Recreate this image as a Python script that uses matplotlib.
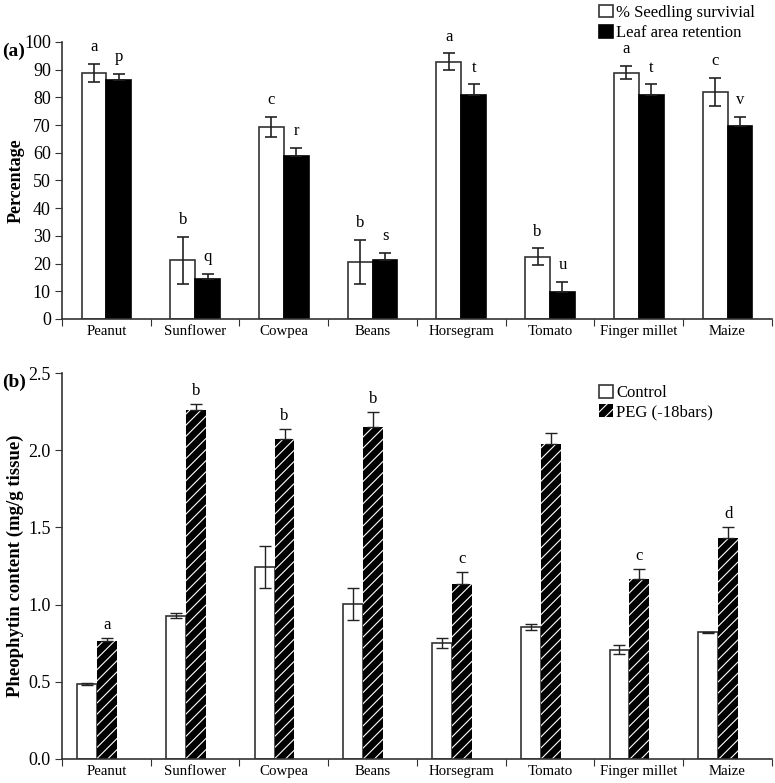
import matplotlib.pyplot as plt
import numpy as np

plt.rcParams['font.family'] = ['Liberation Serif', 'DejaVu Serif']
plt.rcParams['hatch.linewidth'] = 0.8

crops = ["Peanut", "Sunflower", "Cowpea", "Beans", "Horsegram", "Tomato", "Finger millet", "Maize"]

# panel (a)
survival = [88.9, 21.2, 69.4, 20.7, 92.9, 22.5, 88.9, 82.0]
survival_err = [3.3, 8.5, 3.6, 7.9, 3.0, 3.0, 2.4, 5.1]
leaf = [86.3, 14.3, 59.0, 21.2, 80.9, 9.9, 80.9, 69.7]
leaf_err = [2.2, 2.0, 2.9, 2.8, 3.8, 3.6, 3.8, 3.3]
survival_letters = ["a", "b", "c", "b", "a", "b", "a", "c"]
leaf_letters = ["p", "q", "r", "s", "t", "u", "t", "v"]

# panel (b)
control = [0.486, 0.928, 1.243, 1.004, 0.751, 0.855, 0.708, 0.820]
control_err = [0.005, 0.015, 0.135, 0.105, 0.03, 0.02, 0.03, 0.005]
peg = [0.762, 2.258, 2.072, 2.150, 1.133, 2.042, 1.168, 1.431]
peg_err = [0.02, 0.04, 0.065, 0.097, 0.08, 0.067, 0.06, 0.074]
peg_letters = ["a", "b", "b", "b", "c", "", "c", "d"]

x = np.arange(len(crops))
edge = '#333333'

fig = plt.figure(figsize=(7.75, 7.83), dpi=100)
ax1 = fig.add_axes([0.08, 0.5926, 0.916, 0.3538])
ax2 = fig.add_axes([0.08, 0.0307, 0.916, 0.4929])

def style(ax):
    for s in ['top', 'right']:
        ax.spines[s].set_visible(False)
    for s in ['left', 'bottom']:
        ax.spines[s].set_color(edge)
        ax.spines[s].set_linewidth(1.2)
    ax.set_xlim(-0.5, len(crops) - 0.5)
    ax.set_xticks(np.arange(len(crops) + 1) - 0.5)
    ax.set_xticklabels([])
    ax.set_xticks(x, minor=True)
    ax.set_xticklabels(crops, minor=True, fontsize=10.7)
    ax.tick_params(axis='x', which='minor', length=0, pad=4)
    ax.tick_params(axis='x', which='major', length=5, color=edge, direction='out')
    ax.tick_params(axis='y', length=5, color=edge, labelsize=13, direction='out', pad=3)
    ax.yaxis.set_label_coords(-0.053, 0.5)

# ---- (a)
w = 0.28
ax1.bar(x - w / 2, survival, w, yerr=survival_err, color='white', edgecolor=edge,
        linewidth=1.2, capsize=4, error_kw=dict(elinewidth=1.2, capthick=1.2, ecolor='#222'),
        label='% Seedling survivial')
ax1.bar(x + w / 2, leaf, w, yerr=[np.zeros(8), leaf_err], color='black', edgecolor='black',
        linewidth=1.2, capsize=4, error_kw=dict(elinewidth=1.2, capthick=1.2, ecolor='#222'),
        label='Leaf area retention')
for i in range(len(crops)):
    ax1.text(x[i] - w / 2, survival[i] + survival_err[i] + 6, survival_letters[i],
             ha='center', va='center', fontsize=12)
    ax1.text(x[i] + w / 2, leaf[i] + leaf_err[i] + 6, leaf_letters[i],
             ha='center', va='center', fontsize=12)
ax1.set_ylim(0, 100)
ax1.set_yticks(np.arange(0, 101, 10))
ax1.set_ylabel('Percentage', fontsize=13, fontweight='bold')
style(ax1)
ax1.legend(loc='upper left', bbox_to_anchor=(0.745, 1.165), frameon=False, fontsize=12,
           handlelength=0.8, handleheight=0.8, handletextpad=0.2, labelspacing=0.25,
           borderpad=0)
fig.text(0.003, 0.934, '(a)', fontsize=14, fontweight='bold', va='center')

# ---- (b)
w2 = 0.225
off = -0.105
ax2.bar(x + off - w2 / 2, control, w2, yerr=control_err, color='white', edgecolor=edge,
        linewidth=1.2, capsize=4, error_kw=dict(elinewidth=1.0, capthick=1.0, ecolor='#222'),
        label='Control')
ax2.bar(x + off + w2 / 2, peg, w2, yerr=[np.zeros(8), peg_err], color='black', edgecolor='white',
        hatch='///', linewidth=0, capsize=4,
        error_kw=dict(elinewidth=1.0, capthick=1.0, ecolor='#222'),
        label='PEG (-18bars)')
for i in range(len(crops)):
    if peg_letters[i]:
        ax2.text(x[i] + off + w2 / 2, peg[i] + peg_err[i] + 0.085, peg_letters[i],
                 ha='center', va='center', fontsize=12)
ax2.set_ylim(0, 2.5)
ax2.set_yticks(np.arange(0, 2.51, 0.5))
ax2.set_yticklabels(['%.1f' % v for v in np.arange(0, 2.51, 0.5)])
ax2.set_ylabel('Pheophytin content (mg/g tissue)', fontsize=13.5, fontweight='bold')
style(ax2)
ax2.legend(loc='upper left', bbox_to_anchor=(0.745, 0.99), frameon=False, fontsize=12,
           handlelength=0.8, handleheight=0.8, handletextpad=0.2, labelspacing=0.15,
           borderpad=0)
fig.text(0.003, 0.512, '(b)', fontsize=14, fontweight='bold', va='center')

plt.savefig('out.png', dpi=100)
